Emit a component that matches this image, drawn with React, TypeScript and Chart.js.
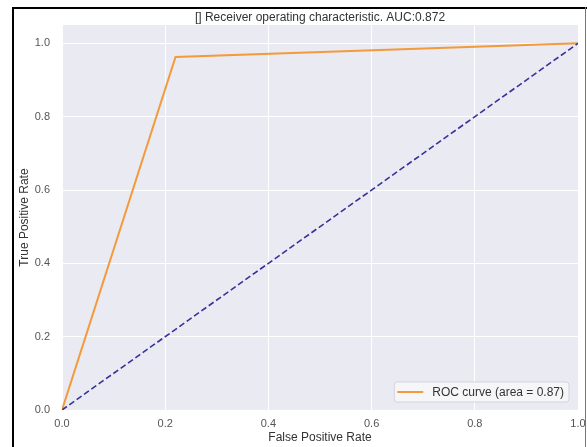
import React, { useEffect, useRef } from "react";
import { Chart, registerables } from "chart.js";

Chart.register(...registerables);

// ---- data ----
const rocFpr = [0, 0.22, 1];
const rocTpr = [0, 0.963, 1];
const chanceFpr = [0, 1];
const chanceTpr = [0, 1];
const xTicks = [0, 0.2, 0.4, 0.6, 0.8, 1.0];
const yTicks = [0, 0.2, 0.4, 0.6, 0.8, 1.0];
const titleText = "[] Receiver operating characteristic. AUC:0.872";
const rocLabel = "ROC curve (area = 0.87)";
const chanceLabel = "chance";
const xLabel = "False Positive Rate";
const yLabel = "True Positive Rate";

const FONT = "'Liberation Sans', Arial, Helvetica, sans-serif";
const ORANGE = "#F39A3A";
const NAVY = "#33339A";

const plotBgPlugin = {
  id: "plotBg",
  beforeDraw(chart: any) {
    const { ctx, chartArea: a } = chart;
    ctx.save();
    ctx.fillStyle = "#EAEAF2";
    ctx.fillRect(a.left, a.top, a.right - a.left, a.bottom - a.top);
    ctx.restore();
  },
};

const boxLegendPlugin = {
  id: "boxLegend",
  afterDraw(chart: any) {
    const { ctx, chartArea: a } = chart;
    const ds = chart.data.datasets.find((d: any) => d.showInLegend);
    if (!ds) return;
    ctx.save();
    ctx.font = `12px ${FONT}`;
    const tw = ctx.measureText(ds.label).width;
    const w = 38 + tw + 5;
    const h = 20;
    const right = a.right - 9;
    const bottom = a.bottom - 8;
    const left = right - w;
    const top = bottom - h;
    const r = 3;
    ctx.beginPath();
    ctx.moveTo(left + r, top);
    ctx.lineTo(right - r, top);
    ctx.arcTo(right, top, right, top + r, r);
    ctx.lineTo(right, bottom - r);
    ctx.arcTo(right, bottom, right - r, bottom, r);
    ctx.lineTo(left + r, bottom);
    ctx.arcTo(left, bottom, left, bottom - r, r);
    ctx.lineTo(left, top + r);
    ctx.arcTo(left, top, left + r, top, r);
    ctx.closePath();
    ctx.fillStyle = "rgba(246,246,250,0.92)";
    ctx.fill();
    ctx.strokeStyle = "#D3D3DB";
    ctx.lineWidth = 1;
    ctx.stroke();
    const cy = top + h / 2;
    ctx.beginPath();
    ctx.moveTo(left + 3, cy);
    ctx.lineTo(left + 29, cy);
    ctx.strokeStyle = ds.borderColor;
    ctx.lineWidth = 2;
    ctx.stroke();
    ctx.fillStyle = "#333";
    ctx.textBaseline = "middle";
    ctx.textAlign = "left";
    ctx.fillText(ds.label, left + 38, cy + 0.5);
    ctx.restore();
  },
};

export default function App() {
  const ref = useRef<HTMLCanvasElement | null>(null);

  useEffect(() => {
    if (!ref.current) return;
    const toPts = (xs: number[], ys: number[]) => xs.map((x, i) => ({ x, y: ys[i] }));
    const chart = new Chart(ref.current, {
      type: "scatter",
      data: {
        datasets: [
          {
            label: chanceLabel,
            data: toPts(chanceFpr, chanceTpr),
            showLine: true,
            borderColor: NAVY,
            backgroundColor: NAVY,
            borderWidth: 1.6,
            borderDash: [6, 3],
            pointRadius: 0,
            pointHoverRadius: 0,
          } as any,
          {
            label: rocLabel,
            data: toPts(rocFpr, rocTpr),
            showLine: true,
            borderColor: ORANGE,
            backgroundColor: ORANGE,
            borderWidth: 2,
            pointRadius: 0,
            pointHoverRadius: 0,
            showInLegend: true,
          } as any,
        ],
      },
      options: {
        animation: false,
        responsive: false,
        devicePixelRatio: 1,
        layout: { padding: { left: 0, right: 9, top: 0, bottom: 0 } },
        plugins: {
          legend: { display: false },
          tooltip: { enabled: false },
          title: {
            display: true,
            text: titleText,
            fullSize: false,
            color: "#333",
            font: { family: FONT, size: 12, weight: "normal" },
            padding: { top: 10, bottom: 0.6 },
          },
        },
        scales: {
          x: {
            type: "linear",
            min: 0,
            max: 1,
            border: { display: false },
            grid: { color: "#FFFFFF", lineWidth: 1, drawTicks: false },
            afterBuildTicks: (s: any) => {
              s.ticks = xTicks.map((v) => ({ value: v }));
            },
            afterFit: (s: any) => {
              s.height = 37;
              s.paddingLeft = 0;
              s.paddingRight = 0;
            },
            ticks: {
              padding: 7,
              color: "#555",
              font: { family: FONT, size: 11 },
              maxRotation: 0,
              callback: (v: any) => Number(v).toFixed(1),
            },
            title: {
              display: true,
              text: xLabel,
              color: "#333",
              font: { family: FONT, size: 12 },
              padding: { top: 0, bottom: 2 },
            },
          },
          y: {
            type: "linear",
            min: 0,
            max: 1.05,
            border: { display: false },
            grid: { color: "#FFFFFF", lineWidth: 1, drawTicks: false },
            afterBuildTicks: (s: any) => {
              s.ticks = yTicks.map((v) => ({ value: v }));
            },
            afterFit: (s: any) => {
              s.width = 62;
              s.paddingTop = 0;
              s.paddingBottom = 0;
            },
            ticks: {
              padding: 12,
              color: "#555",
              font: { family: FONT, size: 11 },
              callback: (v: any) => Number(v).toFixed(1),
            },
            title: {
              display: true,
              text: yLabel,
              color: "#333",
              font: { family: FONT, size: 12 },
              padding: { top: 17, bottom: 0 },
            },
          },
        },
      } as any,
      plugins: [plotBgPlugin, boxLegendPlugin],
    });
    return () => chart.destroy();
  }, []);

  return (
    <div
      style={{
        position: "fixed",
        left: 0,
        top: 0,
        width: 587,
        height: 447,
        background: "#fff",
        overflow: "hidden",
      }}
    >
      <canvas ref={ref} width={587} height={447} style={{ display: "block" }} />
      <div style={{ position: "absolute", left: 12, top: 7, width: 2, height: 440, background: "#000" }} />
      <div style={{ position: "absolute", left: 12, top: 7, width: 575, height: 2, background: "#000" }} />
      <div style={{ position: "absolute", left: 585, top: 7, width: 1, height: 440, background: "#777" }} />
    </div>
  );
}
